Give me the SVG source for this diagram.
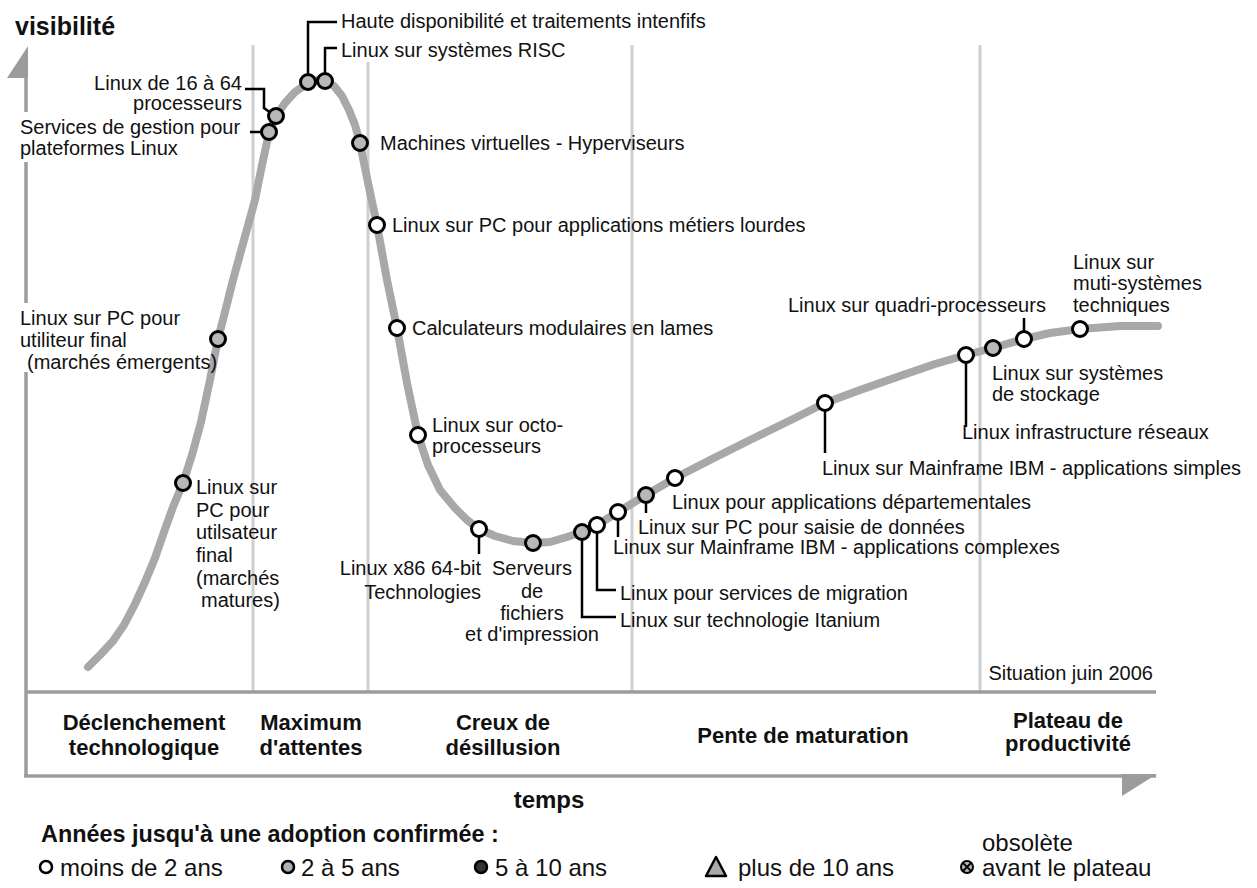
<svg xmlns="http://www.w3.org/2000/svg" width="1257" height="888" viewBox="0 0 1257 888">
<style>
text{font-family:"Liberation Sans",Arial,Helvetica,sans-serif;font-size:20px;fill:#111}
.b{font-weight:bold}
.ph{font-weight:bold;font-size:22px;text-anchor:middle}
.m{text-anchor:middle}
.e{text-anchor:end}
.lg{font-size:24px}
.grid{stroke:#cfcfcf;stroke-width:3}
.axis{stroke:#9c9c9c;stroke-width:3.5;fill:none}
.curve{fill:none;stroke:#a8a8a8;stroke-width:8;stroke-linecap:round;stroke-linejoin:round}
.w{fill:#fff;stroke:#000;stroke-width:3}
.g{fill:#b8b8b8;stroke:#000;stroke-width:3}
.lead{fill:none;stroke:#000;stroke-width:2.5}
</style>
<rect width="1257" height="888" fill="#fff"/>
<g id="grid">
<line class="grid" x1="253" y1="45" x2="253" y2="692"/>
<line class="grid" x1="368" y1="62" x2="368" y2="692"/>
<line class="grid" x1="632" y1="45" x2="632" y2="692"/>
<line class="grid" x1="980" y1="45" x2="980" y2="692"/>
</g>
<g id="axes">
<polygon points="28,46 7,78 28,78" fill="#9c9c9c"/>
<line class="axis" x1="26" y1="76" x2="26" y2="112"/>
<line class="axis" x1="26" y1="162" x2="26" y2="303"/>
<line class="axis" x1="26" y1="372" x2="26" y2="777"/>
<line class="axis" x1="26" y1="692" x2="1156" y2="692"/>
<line class="axis" x1="24" y1="776" x2="1156" y2="776"/>
<polygon points="1122,774 1157,774 1122,796" fill="#9c9c9c"/>
<text class="b" x="15" y="35" style="font-size:25px">visibilité</text>
<text class="b m" x="549" y="808" style="font-size:24px">temps</text>
<text class="e" x="1153" y="680">Situation juin 2006</text>
</g>
<g id="phases">
<text class="ph" x="144" y="730">Déclenchement</text>
<text class="ph" x="144" y="755">technologique</text>
<text class="ph" x="311" y="730">Maximum</text>
<text class="ph" x="311" y="755">d'attentes</text>
<text class="ph" x="503" y="730">Creux de</text>
<text class="ph" x="503" y="755">désillusion</text>
<text class="ph" x="803" y="743">Pente de maturation</text>
<text class="ph" x="1068" y="728">Plateau de</text>
<text class="ph" x="1068" y="751">productivité</text>
</g>
<path id="hype-curve" class="curve" d="M88,667 L100,655 113,641 124,625 135,604 145,582 155,558 164,532 173,507 183,483 192,455 201,422 210,380 218,339 226,308 233,280 244,240 255,200 262,165 269,133 276,116 285,103 295,92 308,83 317,80 325,81 334,86 342,96 349,110 355,125 360,143 365,168 371,197 377,225 387,280 397,328 407,383 418,435 428,465 440,490 455,508 467,520 479,529 495,536 513,541 533,543 550,542 567,537 582,532 597,525 618,512 646,495 675,478 710,460 750,440 793,419 825,403 860,390 900,376 935,364 966,355 993,348 1024,339 1050,333 1080,329 1120,326 1158,326"/>
<g id="connectors">
<polyline class="lead" points="308,76 308,22 337,22"/>
<polyline class="lead" points="325,74 325,48 337,48"/>
<polyline class="lead" points="245,89 264,89 264,108 271,113"/>
<polyline class="lead" points="250,132 262,132"/>
<polyline class="lead" points="479,536 479,554"/>
<polyline class="lead" points="582,539 582,617 616,617"/>
<polyline class="lead" points="597,532 597,590 616,590"/>
<polyline class="lead" points="618,519 618,537"/>
<polyline class="lead" points="646,502 646,513"/>
<polyline class="lead" points="825,410 825,453"/>
<polyline class="lead" points="966,362 966,427"/>
<polyline class="lead" points="1024,332 1024,318"/>
</g>
<g id="n-matures"><circle class="g" cx="183" cy="483" r="7.5"/>
<text x="196" y="494">Linux sur</text><text x="196" y="517">PC pour</text><text x="196" y="539">utilsateur</text><text x="196" y="562">final</text><text x="196" y="585">(marchés</text><text x="201" y="607">matures)</text></g>
<g id="n-emergents"><circle class="g" cx="218" cy="339" r="7.5"/>
<text x="20" y="325">Linux sur PC pour</text><text x="20" y="347">utiliteur final</text><text x="27" y="369">(marchés émergents)</text></g>
<g id="n-services"><circle class="g" cx="269" cy="132" r="7.5"/>
<text x="20" y="134">Services de gestion pour</text><text x="20" y="155">plateformes Linux</text></g>
<g id="n-16-64"><circle class="g" cx="276" cy="116" r="7.5"/>
<text class="e" x="242" y="90">Linux de 16 à 64</text><text class="e" x="242" y="110">processeurs</text></g>
<g id="n-haute-dispo"><circle class="g" cx="308" cy="82" r="7.5"/>
<text x="341" y="28">Haute disponibilité et traitements intenfifs</text></g>
<g id="n-risc"><circle class="g" cx="325" cy="81" r="7.5"/>
<text x="341" y="57">Linux sur systèmes RISC</text></g>
<g id="n-machines"><circle class="g" cx="360" cy="143" r="7.5"/>
<text x="380" y="150">Machines virtuelles - Hyperviseurs</text></g>
<g id="n-metiers"><circle class="w" cx="377" cy="225" r="7.5"/>
<text x="392" y="232">Linux sur PC pour applications métiers lourdes</text></g>
<g id="n-lames"><circle class="w" cx="397" cy="328" r="7.5"/>
<text x="412" y="335">Calculateurs modulaires en lames</text></g>
<g id="n-octo"><circle class="w" cx="418" cy="435" r="7.5"/>
<text x="432" y="432">Linux sur octo-</text><text x="432" y="453">processeurs</text></g>
<g id="n-x86"><circle class="w" cx="479" cy="529" r="7.5"/>
<text class="e" x="481" y="575">Linux x86 64-bit</text><text class="e" x="481" y="599">Technologies</text></g>
<g id="n-serveurs"><circle class="g" cx="533" cy="543" r="7.5"/>
<text class="m" x="532" y="575">Serveurs</text><text class="m" x="532" y="598">de</text><text class="m" x="532" y="620">fichiers</text><text class="m" x="532" y="641">et d'impression</text></g>
<g id="n-itanium"><circle class="g" cx="582" cy="532" r="7.5"/>
<text x="620" y="627">Linux sur technologie Itanium</text></g>
<g id="n-migration"><circle class="w" cx="597" cy="525" r="7.5"/>
<text x="620" y="600">Linux pour services de migration</text></g>
<g id="n-mf-complexes"><circle class="w" cx="618" cy="512" r="7.5"/>
<text x="613" y="554">Linux sur Mainframe IBM - applications complexes</text></g>
<g id="n-saisie"><circle class="g" cx="646" cy="495" r="7.5"/>
<text x="638" y="534">Linux sur PC pour saisie de données</text></g>
<g id="n-departementales"><circle class="w" cx="675" cy="478" r="7.5"/>
<text x="672" y="509">Linux pour applications départementales</text></g>
<g id="n-mf-simples"><circle class="w" cx="825" cy="403" r="7.5"/>
<text x="822" y="475">Linux sur Mainframe IBM - applications simples</text></g>
<g id="n-reseaux"><circle class="w" cx="966" cy="355" r="7.5"/>
<text x="962" y="439">Linux infrastructure réseaux</text></g>
<g id="n-stockage"><circle class="g" cx="993" cy="348" r="7.5"/>
<text x="992" y="380">Linux sur systèmes</text><text x="992" y="401">de stockage</text></g>
<g id="n-quadri"><circle class="w" cx="1024" cy="339" r="7.5"/>
<text x="788" y="312">Linux sur quadri-processeurs</text></g>
<g id="n-multi"><circle class="w" cx="1080" cy="329" r="7.5"/>
<text x="1073" y="269">Linux sur</text><text x="1073" y="290">muti-systèmes</text><text x="1073" y="312">techniques</text></g>
<g id="legend">
<text class="b" x="41" y="842" style="font-size:23.4px">Années jusqu'à une adoption confirmée :</text>
<circle cx="46" cy="867" r="6" fill="#fff" stroke="#000" stroke-width="2.5"/>
<text class="lg" x="60" y="876">moins de 2 ans</text>
<circle cx="288" cy="867" r="6" fill="#b0b0b0" stroke="#000" stroke-width="2.5"/>
<text class="lg" x="301" y="876">2 à 5 ans</text>
<circle cx="481" cy="867" r="6" fill="#333" stroke="#000" stroke-width="2.5"/>
<text class="lg" x="495" y="876">5 à 10 ans</text>
<polygon points="716,857 726,876 706,876" fill="#aaa" stroke="#000" stroke-width="2.5" stroke-linejoin="round"/>
<text class="lg" x="726" y="876" dx="12">plus de 10 ans</text>
<circle cx="967" cy="867" r="6" fill="#bbb" stroke="#000" stroke-width="2"/>
<path d="M963,863 L971,871 M971,863 L963,871" stroke="#000" stroke-width="1.8"/>
<text class="lg" x="982" y="851">obsolète</text>
<text class="lg" x="982" y="876">avant le plateau</text>
</g>
</svg>
